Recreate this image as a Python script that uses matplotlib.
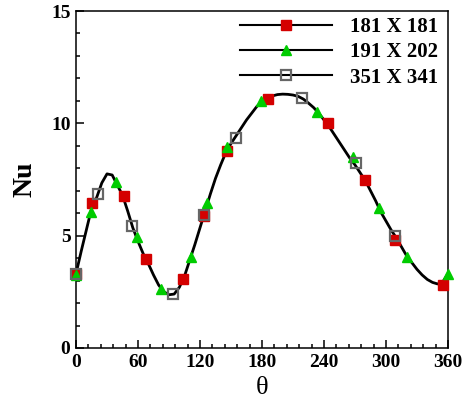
import matplotlib
matplotlib.use("Agg")
import matplotlib.pyplot as plt
from matplotlib.lines import Line2D
from matplotlib.ticker import MultipleLocator

plt.rcParams['font.family'] = ['Liberation Serif', 'DejaVu Serif']

# 181 X 181 grid
th_181 = [0, 15, 46, 68, 104, 124, 146, 186, 244, 280, 309, 355]
nu_181 = [3.3, 6.45, 6.75, 3.96, 3.07, 5.89, 8.78, 11.08, 10.0, 7.48, 4.81, 2.8]

# 191 X 202 grid
th_191 = [0, 14.5, 38.7, 58.7, 82, 111, 127, 146.5, 178.7, 233.5, 267.7, 293.5, 320.6, 360]
nu_191 = [3.25, 6.05, 7.37, 4.93, 2.61, 4.07, 6.47, 8.93, 11.0, 10.52, 8.51, 6.22, 4.06, 3.3]

# 351 X 341 grid
th_351 = [0, 21.6, 53.9, 94.2, 124, 154.8, 218.4, 271, 308.7]
nu_351 = [3.3, 6.84, 5.44, 2.39, 5.9, 9.33, 11.14, 8.25, 4.98]

# curve
th_line = [0, 5, 10, 15, 20, 25, 30, 35, 40, 45, 50, 55, 60, 65, 70, 75, 80, 85, 90, 95,
           100, 105, 110, 115, 120, 125, 130, 135, 140, 145, 150, 155, 160, 165, 170, 175,
           180, 185, 190, 195, 200, 205, 210, 215, 220, 225, 230, 235, 240, 245, 250, 255,
           260, 265, 270, 275, 280, 285, 290, 295, 300, 305, 310, 315, 320, 325, 330, 335,
           340, 345, 350, 355, 360]
nu_line = [3.3, 4.3, 5.25, 6.2, 6.7, 7.35, 7.75, 7.7, 7.25, 6.8, 6.1, 5.35, 4.75, 4.2, 3.75, 3.25,
           2.8, 2.5, 2.37, 2.4, 2.7, 3.2, 3.9, 4.6, 5.35, 6.1, 6.85, 7.55, 8.15, 8.7, 9.1, 9.45,
           9.8, 10.15, 10.45, 10.75, 10.97, 11.12, 11.22, 11.28, 11.3, 11.29, 11.26, 11.2, 11.08,
           10.9, 10.7, 10.45, 10.15, 9.85, 9.5, 9.15, 8.8, 8.45, 8.15, 7.8, 7.45, 7.0, 6.55, 6.05,
           5.65, 5.25, 4.9, 4.5, 4.1, 3.8, 3.5, 3.25, 3.05, 2.92, 2.85, 2.95, 3.3]

labels = ['181 X 181', '191 X 202', '351 X 341']

fig = plt.figure(figsize=(4.64, 4.03), dpi=100)
ax = fig.add_axes([0.1638, 0.1365, 0.8017, 0.8362])

ax.plot(th_line, nu_line, '-', color='black', lw=2, zorder=2)
ax.plot(th_181, nu_181, 's', color='#d40000', ms=7, mec='#d40000', ls='none', zorder=3, clip_on=False)
ax.plot(th_191, nu_191, '^', color='#00cc00', ms=7, mec='#00cc00', ls='none', zorder=4, clip_on=False)
ax.plot(th_351, nu_351, 's', mfc='none', mec='#666666', mew=1.6, ms=7.5, ls='none', zorder=5, clip_on=False)

handles = [
    Line2D([], [], color='black', lw=1.5, marker='s', mfc='#d40000', mec='#d40000', ms=7),
    Line2D([], [], color='black', lw=1.5, marker='^', mfc='#00cc00', mec='#00cc00', ms=7),
    Line2D([], [], color='black', lw=1.5, marker='s', mfc='none', mec='#666666', mew=1.6, ms=7.5),
]
ax.legend(handles, labels, loc='upper right', bbox_to_anchor=(0.989, 1.0), frameon=False,
          handlelength=4.4, handletextpad=0.85, labelspacing=0.25, borderaxespad=0.0,
          borderpad=0.3, prop={'family': 'Liberation Serif', 'weight': 'bold', 'size': 15})

ax.set_xlim(0, 360)
ax.set_ylim(0, 15)
ax.xaxis.set_major_locator(MultipleLocator(60))
ax.xaxis.set_minor_locator(MultipleLocator(12))
ax.yaxis.set_major_locator(MultipleLocator(5))
ax.yaxis.set_minor_locator(MultipleLocator(1))
ax.tick_params(which='both', direction='in', top=False, right=False, width=1.1)
ax.tick_params(which='major', length=6, labelsize=14, pad=4)
ax.tick_params(which='minor', length=3)
for lab in ax.get_xticklabels() + ax.get_yticklabels():
    lab.set_fontweight('bold')
for sp in ax.spines.values():
    sp.set_linewidth(1.1)

ax.set_xlabel('θ', fontsize=19, labelpad=4.5)
ax.set_ylabel('Nu', fontsize=20, fontweight='bold', labelpad=10)

fig.savefig('out.png', dpi=100)
